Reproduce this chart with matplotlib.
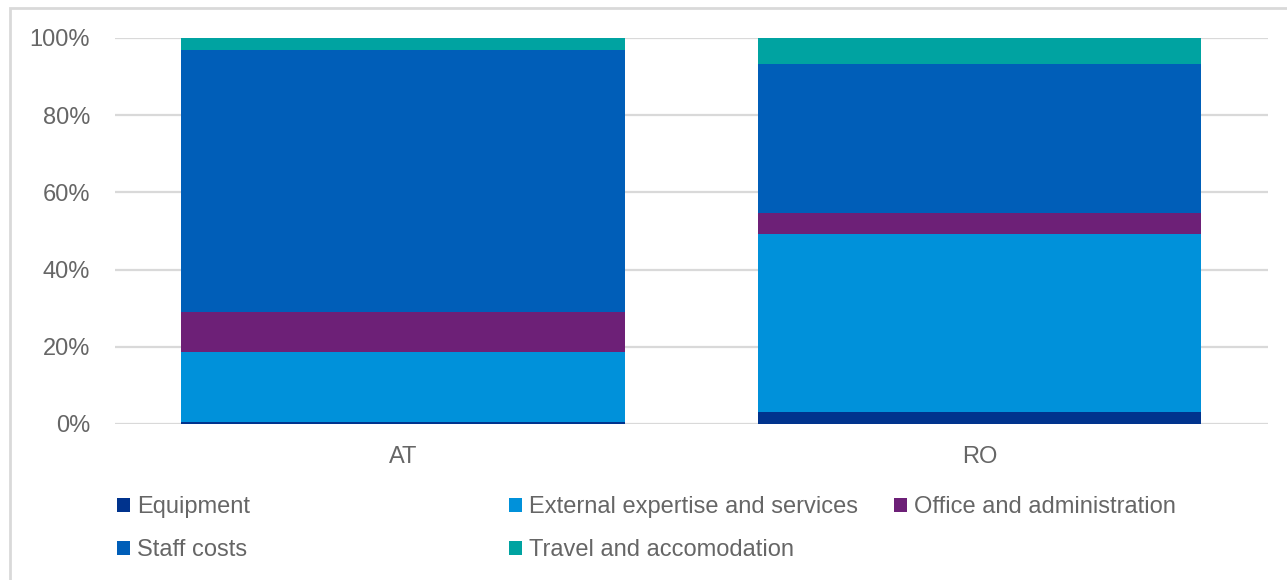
import matplotlib.pyplot as plt
from matplotlib.patches import Patch, Rectangle
import numpy as np

plt.rcParams['font.family'] = ['Liberation Sans', 'DejaVu Sans']

# cost shares per country (percent)
countries = ['AT', 'RO']
categories = ['Equipment', 'External expertise and services', 'Office and administration',
              'Staff costs', 'Travel and accomodation']
equipment = [0.5, 3.0]
external = [18.2, 46.1]
office = [10.2, 5.5]
staff = [68.0, 38.6]
travel = [3.1, 6.8]

colors = ['#00338D', '#0091DA', '#6D2077', '#005EB8', '#00A3A1']
txt = '#666666'

fig = plt.figure(figsize=(12.87, 5.80), dpi=100)
ax = fig.add_axes([0.0894, 0.269, 0.8956, 0.6655])

# light frame round the whole chart
fig.patches.append(Rectangle((10 / 1287, -0.1), 1.2, 1 - 8 / 580 + 0.1, transform=fig.transFigure,
                             fill=False, edgecolor='#D9D9D9', linewidth=2))

x = np.arange(len(countries))
bottom = np.zeros(len(countries))
for vals, c in zip([equipment, external, office, staff, travel], colors):
    ax.bar(x, vals, width=0.77, bottom=bottom, color=c, zorder=3)
    bottom += np.array(vals)

ax.set_xlim(-0.5, 1.5)
ax.set_ylim(0, 100)
ax.set_yticks(np.arange(0, 101, 20))
ax.set_yticklabels([f'{v}%' for v in range(0, 101, 20)])
ax.set_xticks(x)
ax.set_xticklabels(countries)
ax.yaxis.grid(True, color='#D9D9D9', linewidth=1.6)
ax.set_axisbelow(True)
for s in ax.spines.values():
    s.set_visible(False)
ax.tick_params(axis='both', length=0, labelsize=17, colors=txt)
ax.tick_params(axis='y', pad=18)
ax.tick_params(axis='x', pad=16)

# legend laid out in rows of three
handles = [Patch(facecolor=c) for c in colors]
cols = [[0, 3], [1, 4], [2]]
xpos = [117, 509, 894]
for idx, xp in zip(cols, xpos):
    leg = fig.legend([handles[i] for i in idx], [categories[i] for i in idx],
                     loc='upper left', bbox_to_anchor=(xp / 1287, 1 - 496 / 580),
                     frameon=False, fontsize=17, labelcolor=txt,
                     handlelength=0.55, handleheight=0.55, handletextpad=0.3,
                     labelspacing=0.9, borderaxespad=0, borderpad=0)

fig.savefig('out.png', dpi=100)
